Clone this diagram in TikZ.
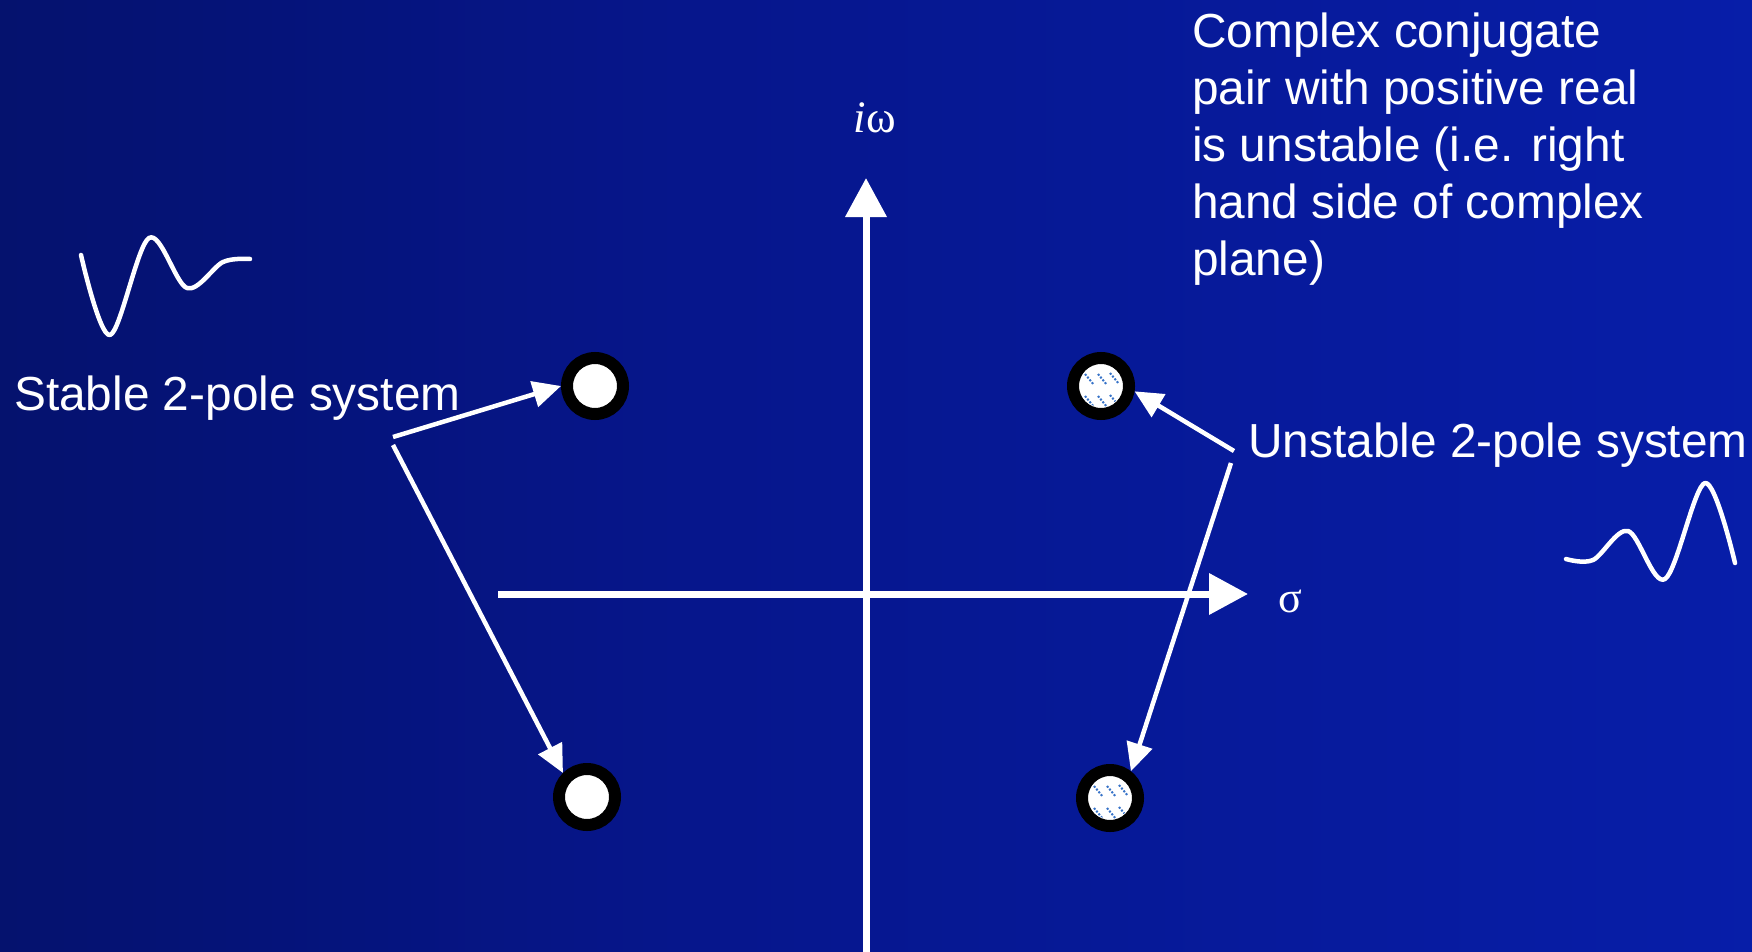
\documentclass[tikz,border=0pt]{standalone}
\usepackage{fontspec}
\setmainfont{Liberation Sans}
\newfontfamily\serifgr{Liberation Serif}
\usetikzlibrary{arrows.meta}
\definecolor{bgA}{RGB}{3,12,72}
\definecolor{bgB}{RGB}{6,22,140}
\definecolor{bgC}{RGB}{8,36,192}
\definecolor{hatchblue}{RGB}{55,115,200}
\pgfdeclarehorizontalshading{bgshade}{100bp}{color(0bp)=(bgA); color(45bp)=(bgB); color(100bp)=(bgC)}
\tikzset{
  lbl/.style={text=white, inner sep=0pt, font=\fontsize{47.8}{57}\selectfont},
  axisline/.style={draw=white, line width=7pt, -{Triangle[length=39pt,width=40pt]}},
  ptr/.style={draw=white, line width=4.5pt, -{Triangle[length=28pt,width=26pt]}},
  pole/.style={circle, inner sep=0pt, minimum size=56pt, fill=white, draw=black, line width=12pt},
  hatchline/.style={draw=hatchblue, line width=2pt, dash pattern=on 2pt off 1.6pt},
  wave/.style={draw=white, line width=4.5pt, line cap=round, line join=round},
}
\begin{document}
\begin{tikzpicture}[x=1pt,y=-1pt]
\useasboundingbox (0,0) rectangle (1752,952);
\shade[shading=bgshade] (0,0) rectangle (1752,952);

% axes
\coordinate (vb) at (866,960);
\coordinate (vt) at (866,178);
\coordinate (hl) at (498,594);
\coordinate (hr) at (1248,594);
\draw[axisline] (vb) -- (vt);
\draw[axisline] (hl) -- (hr);
\node[text=white, inner sep=0pt, anchor=base, font=\fontsize{45}{45}\selectfont\serifgr] (iw) at (875,133) {\itshape i\upshape ω};
\node[text=white, inner sep=0pt, anchor=base, font=\fontsize{44}{44}\selectfont\serifgr] (sig) at (1290,612) {σ};

% poles
\node[pole] (s1) at (595,386) {};
\node[pole] (s2) at (587,797) {};
\node[pole] (u1) at (1101,386) {};
\node[pole] (u2) at (1110,798) {};
\foreach \p in {u1,u2} {
  \begin{scope}
    \clip (\p.center) circle (21pt);
    \foreach \dx/\dy in {-16/-12, -3/-12, 9/-13, -16/10, -3/10, 9/9}
      \draw[hatchline] ([shift={(\dx,\dy)}]\p.center) -- ++(9,11);
  \end{scope}
}

% labels
\node[lbl, anchor=base west] (stable) at (14,410) {Stable 2-pole system};
\node[lbl, anchor=base west] (unstable) at (1248,457) {Unstable 2-pole system};
\node[lbl, anchor=north west, align=left] (note) at (1192,13) {Complex conjugate\\pair with positive real\\is unstable (i.e. right\\hand side of complex\\plane)};

% pointers
\coordinate (sj1) at (393,437);
\coordinate (sj2) at (393,445);
\coordinate (uj1) at (1234,451);
\coordinate (uj2) at (1231,463);
\draw[ptr] (sj1) -- (s1.west);
\draw[ptr] (sj2) -- (s2.135);
\draw[ptr] (uj1) -- (u1.-9);
\draw[ptr] (uj2) -- (u2.52);

% response sketches
\draw[wave] plot[smooth, tension=0.55] coordinates {(81,255) (110,335) (149,238) (187,288) (223,262) (250,259)};
\draw[wave] plot[smooth, tension=0.55] coordinates {(1566,559) (1593,560) (1628,531) (1665,579) (1705,483) (1735,563)};
\end{tikzpicture}
\end{document}
